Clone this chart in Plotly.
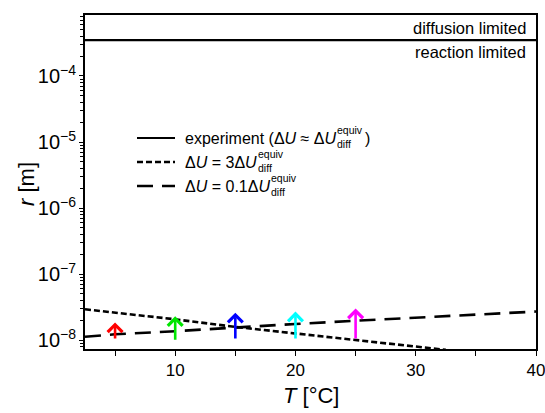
import numpy as np
import plotly.graph_objects as go

# Experiment: boundary between diffusion- and reaction-limited growth
T_exp = [2.5, 10, 20, 30, 40]
r_exp = [3.5e-4, 3.5e-4, 3.5e-4, 3.5e-4, 3.5e-4]

# Model with ΔU = 3 ΔU_diff^equiv
T_hi = [2.5, 5, 10, 15, 20, 25, 30, 32.5]
r_hi = [2.92e-8, 2.6e-8, 2.06e-8, 1.58e-8, 1.26e-8, 1.0e-8, 7.9e-9, 7.1e-9]

# Model with ΔU = 0.1 ΔU_diff^equiv
T_lo = [2.5, 5, 10, 15, 20, 25, 30, 35, 40]
r_lo = [1.12e-8, 1.22e-8, 1.36e-8, 1.56e-8, 1.75e-8, 1.96e-8, 2.2e-8, 2.46e-8, 2.7e-8]

# Measured lower bounds (upward arrows)
T_arrow = [5, 10, 15, 20, 25]
r_arrow_base = [1.0e-8, 0.96e-8, 1.0e-8, 1.0e-8, 1.0e-8]
r_arrow_tip = [1.85e-8, 2.3e-8, 2.6e-8, 2.7e-8, 3.0e-8]
arrow_colors = ["#ff0000", "#00e600", "#0000ff", "#00ffff", "#ff00ff"]

FONT = "Liberation Sans, Arial, sans-serif"
W, H = 545, 413
PL, PR, PT, PB = 85, 536, 15, 349

SHORT_DASH = "6px,3px"
LONG_DASH = "16px,9px"


def px_x(x):
    return (x - PL) / (PR - PL)


def px_y(y):
    return (PB - y) / (PB - PT)


fig = go.Figure()
fig.add_trace(go.Scatter(x=T_exp, y=r_exp, mode="lines",
                         line=dict(color="black", width=2.2), showlegend=False))
fig.add_trace(go.Scatter(x=T_hi, y=r_hi, mode="lines",
                         line=dict(color="black", width=2.6, dash=SHORT_DASH),
                         showlegend=False))
fig.add_trace(go.Scatter(x=T_lo, y=r_lo, mode="lines",
                         line=dict(color="black", width=2.6, dash=LONG_DASH),
                         showlegend=False))

annotations = []
for t, b, tip, c in zip(T_arrow, r_arrow_base, r_arrow_tip, arrow_colors):
    annotations.append(dict(
        x=t, y=np.log10(tip), ax=t, ay=np.log10(b),
        xref="x", yref="y", axref="x", ayref="y",
        text="", showarrow=True, arrowhead=4, arrowsize=1.1,
        arrowwidth=2.6, arrowcolor=c,
    ))

# Region labels on either side of the experimental line
annotations.append(dict(text="diffusion limited", xref="paper", yref="paper",
                        x=px_x(528), y=px_y(28), xanchor="right", yanchor="middle",
                        showarrow=False, font=dict(family=FONT, size=16.5, color="black")))
annotations.append(dict(text="reaction limited", xref="paper", yref="paper",
                        x=px_x(528), y=px_y(52), xanchor="right", yanchor="middle",
                        showarrow=False, font=dict(family=FONT, size=16.5, color="black")))

# Axis titles
annotations.append(dict(text="<i>T</i> [°C]", xref="paper", yref="paper",
                        x=px_x(311), y=px_y(395), xanchor="center", yanchor="middle",
                        showarrow=False, font=dict(family=FONT, size=22, color="black")))
annotations.append(dict(text="<i>r</i> [m]", xref="paper", yref="paper",
                        x=px_x(27), y=px_y(184), xanchor="center", yanchor="middle",
                        textangle=-90, showarrow=False,
                        font=dict(family=FONT, size=22, color="black")))

# Hand-built key with stacked sub/superscripts
TEXT_X = 183
SAMPLE_X0, SAMPLE_X1 = 137, 175
rows = [
    dict(y=138, dash="solid", width=2.2,
         main="experiment (Δ<i>U</i> ≈ Δ<i>U</i>", stack_x=335, tail=")", tail_x=363),
    dict(y=162, dash=SHORT_DASH, width=2.6,
         main="Δ<i>U</i> = 3Δ<i>U</i>", stack_x=256, tail=None, tail_x=None),
    dict(y=186, dash=LONG_DASH, width=2.6,
         main="Δ<i>U</i> = 0.1Δ<i>U</i>", stack_x=269, tail=None, tail_x=None),
]
shapes = []
for row in rows:
    yp = px_y(row["y"])
    shapes.append(dict(type="line", xref="paper", yref="paper",
                       x0=px_x(SAMPLE_X0), x1=px_x(SAMPLE_X1), y0=yp, y1=yp,
                       line=dict(color="black", width=row["width"], dash=row["dash"])))
    annotations.append(dict(text=row["main"], xref="paper", yref="paper",
                            x=px_x(TEXT_X), y=yp, xanchor="left", yanchor="middle",
                            showarrow=False, font=dict(family=FONT, size=16, color="black")))
    annotations.append(dict(text="equiv", xref="paper", yref="paper",
                            x=px_x(row["stack_x"]), y=px_y(row["y"] - 8),
                            xanchor="left", yanchor="middle", showarrow=False,
                            font=dict(family=FONT, size=10.5, color="black")))
    annotations.append(dict(text="diff", xref="paper", yref="paper",
                            x=px_x(row["stack_x"]), y=px_y(row["y"] + 6),
                            xanchor="left", yanchor="middle", showarrow=False,
                            font=dict(family=FONT, size=10.5, color="black")))
    if row["tail"]:
        annotations.append(dict(text=row["tail"], xref="paper", yref="paper",
                                x=px_x(row["tail_x"]), y=yp, xanchor="left",
                                yanchor="middle", showarrow=False,
                                font=dict(family=FONT, size=16, color="black")))

axis_common = dict(
    showline=True, linecolor="black", linewidth=1.5, mirror=True,
    showgrid=False, zeroline=False, automargin=False,
    ticklabeloverflow="allow",
    ticks="outside", ticklen=5, tickwidth=1.3, tickcolor="black",
    tickfont=dict(family=FONT, size=17, color="black"),
)

fig.update_layout(
    width=W, height=H, autosize=False,
    margin=dict(l=PL, r=W - PR, t=PT, b=H - PB),
    paper_bgcolor="white", plot_bgcolor="white",
    font=dict(family=FONT, color="black"),
    showlegend=False,
    annotations=annotations,
    shapes=shapes,
    xaxis=dict(
        **axis_common,
        range=[2.5, 40], tick0=0, dtick=10,
        minor=dict(dtick=5, ticks="outside", ticklen=5, tickwidth=1.3, tickcolor="black"),
    ),
    yaxis=dict(
        **axis_common,
        type="log", range=[-8.136, -3.076], dtick=1, exponentformat="power",
        minor=dict(dtick="D1", ticks="outside", ticklen=3, tickwidth=1, tickcolor="black"),
    ),
)
fig.update_yaxes(tickfont=dict(family=FONT, size=16, color="black"), ticklen=4)

fig.write_html("out.html")
